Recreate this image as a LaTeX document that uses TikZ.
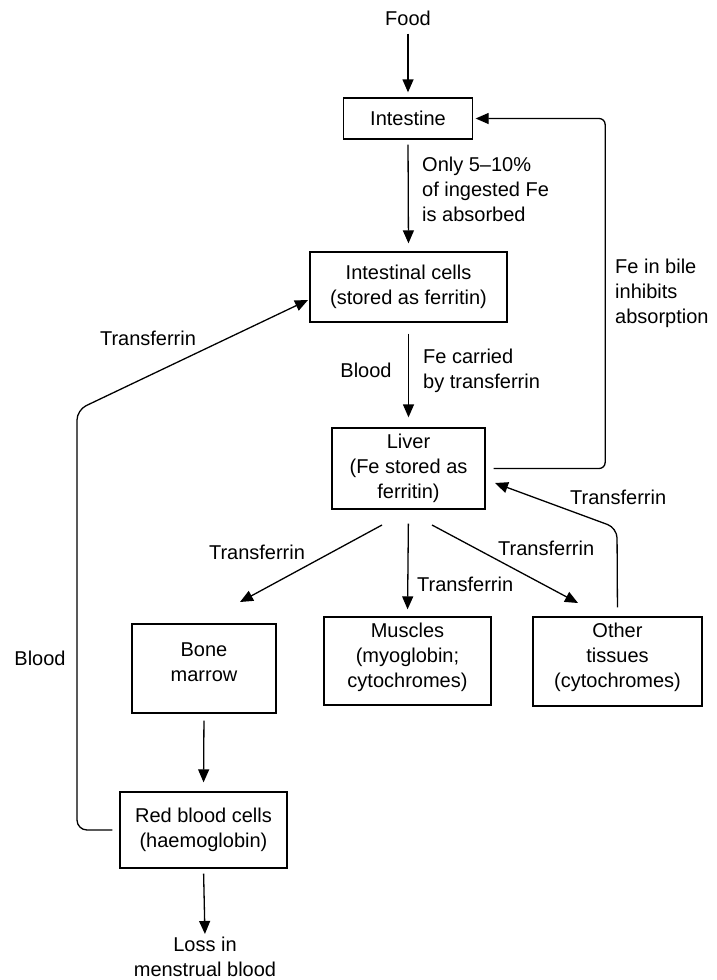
\documentclass[tikz,border=0pt]{standalone}
\usepackage{fontspec}
\setmainfont{Liberation Sans}
\usetikzlibrary{arrows.meta,calc}
\begin{document}
\begin{tikzpicture}[x=1pt,y=-1pt,
  every node/.style={font=\fontsize{20}{25}\selectfont, inner sep=0pt, align=center},
  box/.style={draw, line width=1.3pt, minimum width=#1},
  arr/.style={line width=1.3pt, -{Triangle[length=13pt,width=11pt]}},
  lbl/.style={anchor=center},
  lbll/.style={anchor=west, align=left}]
\useasboundingbox (0,0) rectangle (717,980);
% boxes
\node[box=129pt, minimum height=41pt] (int) at (408,118.5) {Intestine};
\node[box=197pt, minimum height=70pt] (cells) at (408.5,287) {Intestinal cells\\(stored as ferritin)};
\node[box=153pt, minimum height=81pt] (liver) at (408.5,468.5) {Liver\\(Fe stored as\\ferritin)};
\node[box=144pt, minimum height=89pt] (bone) at (204,668.5) {};
\node (bonet) at (204,662.5) {Bone\\marrow};
\node[box=167pt, minimum height=88pt] (mus) at (407.5,661) {};
\node (must) at (407.5,657.5) {Muscles\\(myoglobin;\\cytochromes)};
\node[box=169pt, minimum height=89pt] (oth) at (617.5,661.5) {};
\node (otht) at (617.5,657.5) {Other\\tissues\\(cytochromes)};
\node[box=167pt, minimum height=76pt] (rbc) at (203.5,830) {Red blood cells\\(haemoglobin)};
% plain texts
\node (food) at (408,18) {Food};
\node (loss) at (205,957) {Loss in\\menstrual blood};
\node[lbll] (only) at (422,189) {Only 5--10\%\\of ingested Fe\\is absorbed};
\node[lbl] (blood1) at (366,370) {Blood};
\node[lbll] (fecar) at (423,370.5) {Fe carried\\by transferrin};
\node[lbll] (bile) at (615,293) {Fe in bile\\inhibits\\absorption};
\node[lbl] (tr1) at (148,338) {Transferrin};
\node[lbl] (tr2) at (257,552) {Transferrin};
\node[lbll] (tr3) at (417,584) {Transferrin};
\node[lbll] (tr4) at (498,548) {Transferrin};
\node[lbll] (tr5) at (570,497) {Transferrin};
\node[lbl] (blood2) at (40,658) {Blood};
% free coordinates
\coordinate (lsL) at (382,525);
\coordinate (ltL) at (240,602);
\coordinate (lsR) at (432,525);
\coordinate (ltR) at (578,603);
\coordinate (otc) at (617,528);
\coordinate (otTip) at (495,483);
\coordinate (lfc) at (77,410);
\coordinate (lfTip) at (308,300);
% connectors
\draw[arr, shorten <=8pt, shorten >=5pt] (food.south) -- (int.north);
\draw[arr, shorten <=5pt, shorten >=8pt] (int.south) -- (cells.north);
\draw[arr, shorten <=11pt, shorten >=10pt] (cells.south) -- (liver.north);
\draw[arr, rounded corners=6pt, shorten <=8pt, shorten >=2.5pt] (liver.east) -| ([xshift=132pt]int.east) -- (int.east);
\draw[arr, rounded corners=10pt, shorten <=9pt] (oth.north) -- (otc) -- (otTip);
\draw[arr] (lsL) -- (ltL);
\draw[arr, shorten <=14pt, shorten >=7pt] (liver.south) -- (mus.north);
\draw[arr] (lsR) -- (ltR);
\draw[arr, shorten <=7pt, shorten >=9pt] (bone.south) -- (rbc.north);
\draw[arr, shorten <=5pt, shorten >=3pt] (rbc.south) -- (loss.north);
\draw[arr, rounded corners=10pt, shorten <=7pt] (rbc.west) -| (lfc) -- (lfTip);
\end{tikzpicture}
\end{document}
